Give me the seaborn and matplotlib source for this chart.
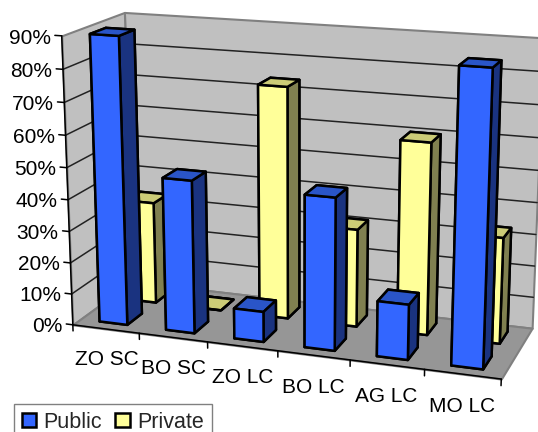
import matplotlib
matplotlib.use("Agg")
import matplotlib.pyplot as plt
import seaborn as sns
from matplotlib.patches import Patch
from mpl_toolkits.mplot3d import proj3d
from mpl_toolkits.mplot3d.art3d import Poly3DCollection

categories = ["ZO SC", "BO SC", "ZO LC", "BO LC", "AG LC", "MO LC"]
public = [90, 48, 9.5, 47, 17, 88]
private = [33, 0, 73.5, 31, 60, 33]
percent_ticks = [0, 10, 20, 30, 40, 50, 60, 70, 80, 90]

# bottom, top, front, back, left, right
blue_faces = ["#2A55C8", "#2A55C8", "#3366FF", "#3366FF", "#1A3380", "#1A3380"]
yellow_faces = ["#CCCC77", "#CCCC77", "#FFFF99", "#FFFF99", "#808050", "#808050"]

sns.set_theme(style="white")
plt.rcParams["font.family"] = ["Liberation Sans", "DejaVu Sans"]

fig = plt.figure(figsize=(5.38, 4.32), dpi=100)
ax = fig.add_axes([0.0504, 0.0579, 1, 1], projection="3d", computed_zorder=False)
ax.set_proj_type("persp", focal_length=0.7131)
ax.view_init(elev=15.5, azim=-70.95, roll=-0.035)
ax.set_box_aspect((1, 0.3236, 0.6712), zoom=1.2544)
ax.set_axis_off()

n = len(categories)
ax.set_xlim(0, n)
ax.set_ylim(0, 2)
ax.set_zlim(0, 90)
ax.apply_aspect()


def label(x, y, z, s, **kw):
    # plain 2d text at the projected spot
    px, py, _ = proj3d.proj_transform(x, y, z, ax.get_proj())
    fig.text(*fig.transFigure.inverted().transform(ax.transData.transform((px, py))),
             s, fontsize=15, color="black", va="center", **kw)


# walls and floor
ztop = percent_ticks[-1]
walls = [
    ([(0, 2, 0), (n, 2, 0), (n, 2, ztop), (0, 2, ztop)], "#C0C0C0"),
    ([(0, 0, 0), (0, 2, 0), (0, 2, ztop), (0, 0, ztop)], "#C0C0C0"),
    ([(0, 0, 0), (n, 0, 0), (n, 2, 0), (0, 2, 0)], "#969696"),
]
for verts, col in walls:
    ax.add_collection3d(Poly3DCollection([verts], facecolors=col, edgecolors="#808080",
                                         linewidths=1.5, zorder=1))

for t in percent_ticks[1:-1]:
    ax.plot([0, 0, n], [0, 2, 2], [t, t, t], color="#222222", lw=1.1, zorder=2)

# axis lines, ticks, labels
ax.plot([0, 0], [0, 0], [0, ztop], color="black", lw=1.1, zorder=3)
ax.plot([0, n], [0, 0], [0, 0], color="black", lw=1.1, zorder=3)
for t in percent_ticks:
    ax.plot([0, -0.1], [0, 0], [t, t], color="black", lw=1.1, zorder=3)
    label(-0.16, 0, t - 1, f"{t}%", ha="right")
for i in range(n + 1):
    ax.plot([i, i], [0, 0], [0, -2], color="black", lw=1.1, zorder=3)
for i, name in enumerate(categories):
    label(i + 0.5, 0, -10, name, ha="center")

# bars: back row first
z = 4
for row, vals, faces in [(1, private, yellow_faces), (0, public, blue_faces)]:
    for i, v in enumerate(vals):
        ax.bar3d(i + 0.29, row + 0.25, 0, 0.42, 0.5, v, color=faces,
                 edgecolor="black", linewidth=1.8, shade=False, zorder=z)
        z += 1

# the 3d axes box is square, the chart is wider than that
for art in ax.get_children():
    art.set_clip_on(False)

handles = [Patch(facecolor="#3366FF", edgecolor="black", lw=1.8, label="Public"),
           Patch(facecolor="#FFFF99", edgecolor="black", lw=1.8, label="Private")]
fig.legend(handles=handles, loc="upper left", bbox_to_anchor=(14 / 538, 1 - 404 / 432),
           ncol=2, fontsize=15.5, fancybox=False, framealpha=1, edgecolor="#808080",
           borderaxespad=0, borderpad=0.35, columnspacing=0.6, handlelength=0.68,
           handleheight=0.68, handletextpad=0.35)

fig.savefig("out.png", dpi=100)
